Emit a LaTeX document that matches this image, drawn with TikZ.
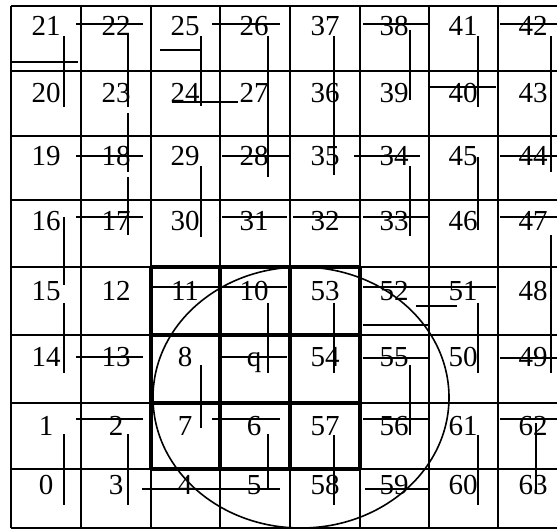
\documentclass[tikz,border=0pt]{standalone}
\usepackage{fontspec}
\setmainfont{Liberation Serif}
\begin{document}
\begin{tikzpicture}[x=0.75pt,y=-0.75pt,
  gridline/.style={line width=1.5pt},
  segline/.style={line width=1.2pt},
  boldline/.style={line width=3.2pt},
  lbl/.style={font=\fontsize{21.75}{22}\selectfont, anchor=base, inner sep=0pt}]
\useasboundingbox (0,0) rectangle (557,529);
\clip (0,0) rectangle (557,529);
% grid
\foreach \x in {11,81,151,220,290,360,429,498,568}
  \draw[gridline] (\x,6) -- (\x,528);
\foreach \y in {6,71,136,200,267,335,403,469,528}
  \draw[gridline] (11,\y) -- (568,\y);
% bold 3x3 block
\foreach \x in {151,220,290,360}
  \draw[boldline] (\x,267) -- (\x,469);
\foreach \y in {267,335,403,469}
  \draw[boldline] (151,\y) -- (360,\y);
% labels
\def\colx{{46,116,185,254,325,394,463,533}}
\def\rowy{{35,102,165,230,300,366,435,494}}
\foreach \t [count=\i from 0] in {21,22,25,26,37,38,41,42,
                                   20,23,24,27,36,39,40,43,
                                   19,18,29,28,35,34,45,44,
                                   16,17,30,31,32,33,46,47,
                                   15,12,11,10,53,52,51,48,
                                   14,13,8,q,54,55,50,49,
                                   1,2,7,6,57,56,61,62,
                                   0,3,4,5,58,59,60,63}{
  \pgfmathtruncatemacro{\c}{mod(\i,8)}
  \pgfmathtruncatemacro{\r}{div(\i,8)}
  \pgfmathsetmacro{\lx}{\colx[\c]}
  \pgfmathsetmacro{\ly}{\rowy[\r]}
  \node[lbl] (n\t) at (\lx,\ly) {\t};
}
% horizontal segments
\foreach \y/\a/\b in {24/76/143, 62/12/78, 24/212/280, 50/160/201, 102/172/238,
   156/76/143, 217/76/143, 156/222/290, 217/222/287, 24/363/430, 87/430/496,
   24/500/568, 156/354/420, 156/500/568, 217/293/359, 217/363/430, 217/500/568,
   357/76/143, 287/153/287, 357/222/287, 419/76/143, 419/212/280, 489/142/280,
   287/363/496, 306/416/457, 325/363/430, 358/363/430, 419/363/430,
   358/500/568, 419/500/568, 489/365/430}
  \draw[segline] (\a,\y) -- (\b,\y);
% vertical segments
\foreach \x/\a/\b in {64/36/107, 128/33/107, 201/36/106, 268/36/177, 128/113/172,
   128/177/235, 201/166/237, 64/217/285, 334/36/175, 410/30/100, 478/36/107,
   551/36/172, 410/166/236, 478/157/230, 551/235/373, 64/303/373, 268/303/373,
   201/365/428, 64/434/505, 128/434/505, 268/434/490, 478/303/373, 334/303/373,
   410/365/435, 536/423/493, 478/435/505, 334/435/505}
  \draw[segline] (\x,\a) -- (\x,\b);
% ellipse
\draw[segline] (301,397.5) ellipse [x radius=148, y radius=130.5];
\end{tikzpicture}
\end{document}
